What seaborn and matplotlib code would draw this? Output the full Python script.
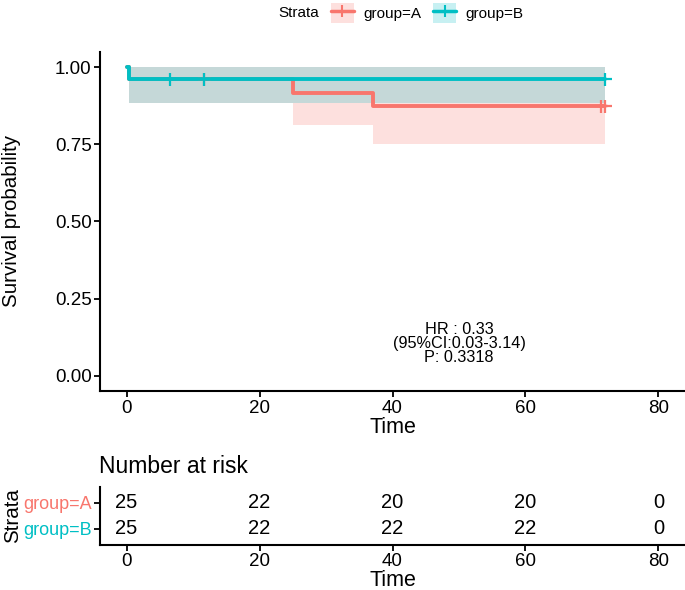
import matplotlib
matplotlib.use('Agg')
import matplotlib.pyplot as plt
import seaborn as sns
import pandas as pd
from matplotlib.patches import Patch
from matplotlib.lines import Line2D

# survival curves
groups = ['group=A', 'group=B']
colors = ['#F8766D', '#00BFC4']

time_a = [0, 0.3, 25, 37, 72]
surv_a = [1.0, 0.96, 0.917, 0.873, 0.873]
low_a = [1.0, 0.883, 0.812, 0.750, 0.750]
high_a = [1.0, 1.0, 1.0, 1.0, 1.0]
cens_time_a = [11.7, 71.4, 72.0]
cens_surv_a = [0.96, 0.873, 0.873]

time_b = [0, 0.3, 72]
surv_b = [1.0, 0.96, 0.96]
low_b = [1.0, 0.883, 0.883]
high_b = [1.0, 1.0, 1.0]
cens_time_b = [6.5, 11.7, 72.0]
cens_surv_b = [0.96, 0.96, 0.96]

# number at risk table
risk_times = [0, 20, 40, 60, 80]
risk_a = [25, 22, 20, 20, 0]
risk_b = [25, 22, 22, 22, 0]

stats_text = 'HR : 0.33\n(95%CI:0.03-3.14)\nP: 0.3318'

sns.set_theme(style='ticks')
plt.rcParams['font.family'] = ['Liberation Sans', 'DejaVu Sans']
plt.rcParams['text.color'] = 'black'
plt.rcParams['axes.labelcolor'] = 'black'

curves = pd.DataFrame({
    'Time': time_a + time_b,
    'Surv': surv_a + surv_b,
    'low': low_a + low_b,
    'high': high_a + high_b,
    'Strata': [groups[0]] * len(time_a) + [groups[1]] * len(time_b),
})
cens = pd.DataFrame({
    'Time': cens_time_a + cens_time_b,
    'Surv': cens_surv_a + cens_surv_b,
    'Strata': [groups[0]] * len(cens_time_a) + [groups[1]] * len(cens_time_b),
})
palette = dict(zip(groups, colors))

fig = plt.figure(figsize=(6.85, 5.9), dpi=100)
ax = fig.add_axes([0.146, 0.3366, 0.854, 0.576])
tab = fig.add_axes([0.146, 0.077, 0.854, 0.097])

for g in groups:
    d = curves[curves['Strata'] == g]
    ax.fill_between(d['Time'], d['low'], d['high'], step='post',
                    color=palette[g], alpha=0.22, lw=0)

sns.lineplot(data=curves, x='Time', y='Surv', hue='Strata', palette=palette,
             drawstyle='steps-post', lw=2.8, estimator=None, legend=False, ax=ax)
sns.scatterplot(data=cens, x='Time', y='Surv', hue='Strata', palette=palette,
                marker='+', s=90, linewidth=1.6, legend=False, ax=ax, zorder=5)

ax.set_xlim(-4, 84)
ax.set_ylim(-0.05, 1.05)
ax.set_xticks(risk_times)
ax.set_yticks([0, 0.25, 0.5, 0.75, 1.0])
ax.set_yticklabels(['0.00', '0.25', '0.50', '0.75', '1.00'])
ax.set_xlabel('Time', fontsize=15.5, labelpad=0)
ax.set_ylabel('Survival probability', fontsize=14.8)
ax.yaxis.set_label_coords(-0.135, 0.5)
ax.tick_params(labelsize=13.5, colors='black', width=1.3, length=4, pad=2)
for s in ['left', 'bottom']:
    ax.spines[s].set_linewidth(1.5)
    ax.spines[s].set_color('black')
sns.despine(ax=ax)
ax.text(50, 0.104, stats_text, ha='center', va='center', fontsize=11.7,
        linespacing=0.93)

# legend
handles = [(Patch(facecolor=c, alpha=0.22, lw=0),
            Line2D([], [], color=c, lw=2.5, marker='|', ms=9, mew=1.5))
           for c in colors]
fig.text(0.406, 0.978, 'Strata', fontsize=11, va='center')
fig.legend(handles, groups, loc='center left', bbox_to_anchor=(0.474, 0.978),
           ncol=2, frameon=False, fontsize=11, handlelength=1.5,
           handleheight=1.6, handletextpad=0.6, columnspacing=0.8,
           borderaxespad=0)

# risk table
rows = {groups[0]: 2, groups[1]: 1}
for g, vals in zip(groups, [risk_a, risk_b]):
    for t, v in zip(risk_times, vals):
        tab.text(t, rows[g], str(v), ha='center', va='center', fontsize=14.5)
tab.set_xlim(-4, 84)
tab.set_ylim(0.4, 2.6)
tab.set_xticks(risk_times)
tab.set_yticks([2, 1])
tab.set_yticklabels(groups)
tab.set_xlabel('Time', fontsize=15.5, labelpad=0)
tab.set_ylabel('Strata', fontsize=14.8)
tab.yaxis.set_label_coords(-0.133, 0.5)
tab.tick_params(labelsize=13.5, colors='black', width=1.3, length=4, pad=2)
tab.tick_params(axis='y', labelsize=13)
for lab, c in zip(tab.get_yticklabels(), colors):
    lab.set_color(c)
for s in ['left', 'bottom']:
    tab.spines[s].set_linewidth(1.5)
    tab.spines[s].set_color('black')
sns.despine(ax=tab)
tab.set_title('Number at risk', fontsize=16.5, loc='left', x=-0.002, pad=10)

fig.savefig('out.png', dpi=100)
